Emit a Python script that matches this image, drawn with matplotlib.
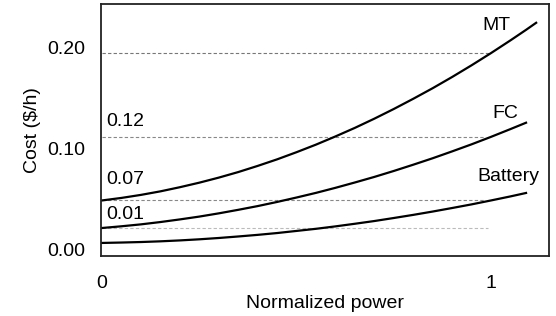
import matplotlib.pyplot as plt
import matplotlib.transforms as mtransforms

plt.rcParams["font.family"] = ["Liberation Sans", "DejaVu Sans"]

# normalized power samples and cost curves
power = [0.0, 0.05, 0.1, 0.15, 0.2, 0.25, 0.3, 0.35, 0.4, 0.45, 0.5, 0.55,
         0.6, 0.65, 0.7, 0.75, 0.8, 0.85, 0.9, 0.95, 1.0, 1.05, 1.09]
mt_power = power + [1.116]
mt_cost = [0.0540, 0.0565, 0.0595, 0.0630, 0.0671, 0.0716, 0.0766, 0.0821,
           0.0882, 0.0947, 0.1018, 0.1093, 0.1174, 0.1259, 0.1350, 0.1446,
           0.1547, 0.1652, 0.1763, 0.1879, 0.2000, 0.2126, 0.2230, 0.2300]
fc_cost = [0.0267, 0.0284, 0.0303, 0.0326, 0.0352, 0.0380, 0.0412, 0.0447,
           0.0484, 0.0525, 0.0569, 0.0615, 0.0665, 0.0718, 0.0773, 0.0832,
           0.0894, 0.0958, 0.1026, 0.1096, 0.1170, 0.1247, 0.1310]
battery_cost = [0.0119, 0.0123, 0.0128, 0.0135, 0.0144, 0.0155, 0.0168, 0.0183,
                0.0199, 0.0217, 0.0238, 0.0259, 0.0283, 0.0309, 0.0336, 0.0366,
                0.0397, 0.0430, 0.0465, 0.0501, 0.0540, 0.0580, 0.0614]

# reference levels and where their dashed guides stop
guide_levels = [0.200, 0.117, 0.054, 0.027]
guide_ends = [1.0, 0.985, 0.985, 0.992]
guide_colors = ["#777777", "#888888", "#888888", "#bbbbbb"]
level_texts = ["0.12", "0.07", "0.01"]
level_text_y = [0.132, 0.0743, 0.0396]

curve_names = ["MT", "FC", "Battery"]
curve_label_xy = [(1.015, 0.2277), (1.036, 0.1406), (1.044, 0.0782)]

yticks = [0.0, 0.1, 0.2]
ytick_labels = ["0.00", "0.10", "0.20"]
xticks = [0, 1]

fig = plt.figure(figsize=(5.56, 3.16), dpi=100)
ax = fig.add_axes([0.1817, 0.19, 0.8057, 0.797])

for level, end, color in zip(guide_levels, guide_ends, guide_colors):
    ax.plot([0, end], [level, level], color=color, linestyle="--", linewidth=0.8,
            dashes=(3, 2))

ax.plot(mt_power, mt_cost, color="black", linewidth=1.6)
ax.plot(power, fc_cost, color="black", linewidth=1.6)
ax.plot(power, battery_cost, color="black", linewidth=1.6)

for text, y in zip(level_texts, level_text_y):
    ax.text(0.01, y, text, fontsize=14, va="center", ha="left")

for name, (x, y) in zip(curve_names, curve_label_xy):
    ax.text(x, y, name, fontsize=14, va="center", ha="center")

ax.set_xlim(-0.0026, 1.149)
ax.set_ylim(-0.001, 0.2485)
ax.set_yticks(yticks)
ax.set_yticklabels(ytick_labels)
ax.set_xticks(xticks)
ax.tick_params(axis="both", length=0, labelsize=14)
ax.tick_params(axis="y", pad=11)
ax.tick_params(axis="x", pad=14)

# the reference prints the y labels slightly above their levels
shift = mtransforms.ScaledTranslation(0, 4 / 72, fig.dpi_scale_trans)
for label in ax.get_yticklabels():
    label.set_transform(label.get_transform() + shift)

ax.set_xlabel("Normalized power", fontsize=14, labelpad=2)
ax.set_ylabel("Cost ($/h)", fontsize=14, labelpad=5)

for spine in ax.spines.values():
    spine.set_linewidth(1.3)
    spine.set_color("#222222")

fig.savefig("out.png", dpi=100)
